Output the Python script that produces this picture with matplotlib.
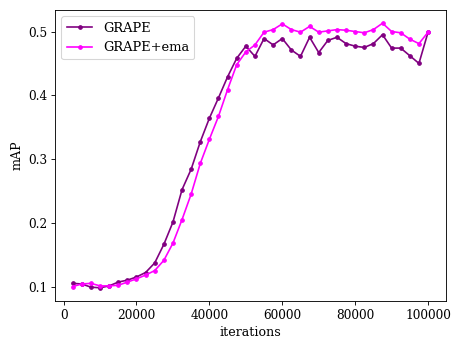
import numpy as np
import matplotlib
matplotlib.use("Agg")
import matplotlib.pyplot as plt

plt.rcParams["font.family"] = "DejaVu Serif"
plt.rcParams["font.size"] = 11

# iteracoes (a cada 2500)
iteracoes = np.arange(2500, 100001, 2500)

grape = [0.105, 0.104, 0.099, 0.098, 0.101, 0.107, 0.110, 0.115, 0.122, 0.137,
         0.166, 0.201, 0.252, 0.284, 0.327, 0.364, 0.396, 0.429, 0.458, 0.477,
         0.461, 0.489, 0.479, 0.489, 0.471, 0.461, 0.491, 0.467, 0.486, 0.491,
         0.481, 0.477, 0.475, 0.481, 0.495, 0.474, 0.474, 0.462, 0.450, 0.499]

grape_ema = [0.100, 0.104, 0.105, 0.101, 0.101, 0.102, 0.107, 0.112, 0.118, 0.125,
             0.141, 0.168, 0.205, 0.245, 0.293, 0.331, 0.367, 0.409, 0.448, 0.468,
             0.479, 0.499, 0.503, 0.512, 0.503, 0.499, 0.508, 0.499, 0.501, 0.503,
             0.502, 0.500, 0.498, 0.503, 0.513, 0.500, 0.498, 0.488, 0.481, 0.499]

dpi = 79
fig = plt.figure(figsize=(454 / dpi, 339 / dpi), dpi=dpi)
ax = fig.add_axes([0.121, 0.112, 0.861, 0.8585])

ax.plot(iteracoes, grape, marker=".", markersize=6.5, color="purple", label="GRAPE")
ax.plot(iteracoes, grape_ema, marker=".", markersize=6.5, color="magenta", label="GRAPE+ema")

ax.set_xlabel("iterations", fontsize=11.5)
ax.set_ylabel("mAP", fontsize=11.5)
ax.set_yticks([0.1, 0.2, 0.3, 0.4, 0.5])
ax.legend(loc="upper left", fontsize=11.8)

fig.savefig("out.png", dpi=dpi)
